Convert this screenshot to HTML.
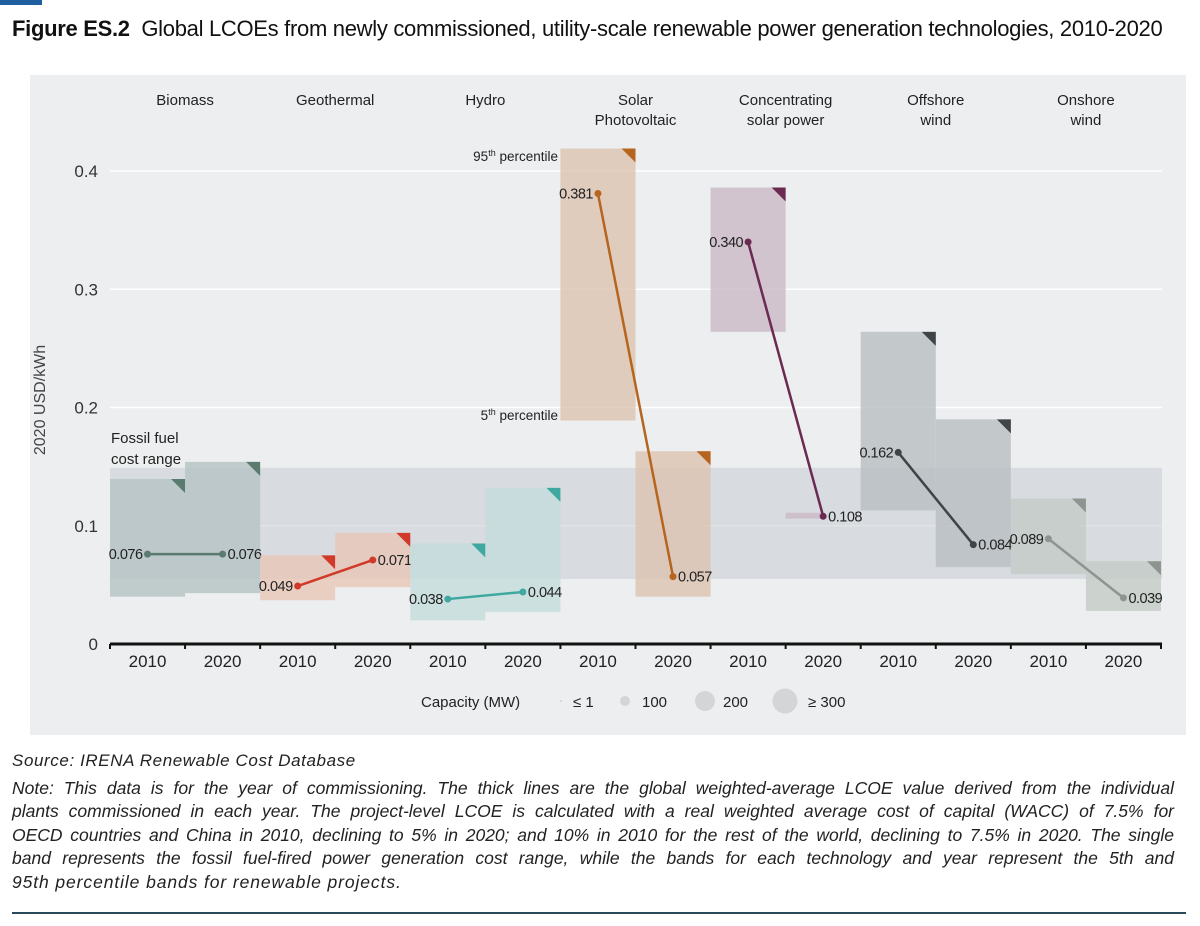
<!DOCTYPE html>
<html><head><meta charset="utf-8"><style>
body{margin:0;width:1200px;height:926px;background:#fff;font-family:"Liberation Sans",sans-serif;overflow:hidden;position:relative}
.t{position:absolute}
.fn div{width:1162px;text-align:justify;text-align-last:justify;white-space:nowrap}
.fn div.last{text-align-last:left;letter-spacing:0.9px}
</style></head><body>
<div class="t" style="left:0;top:0;width:42px;height:5px;background:#1f5fa0"></div>
<div class="t" style="left:12px;top:16px;font-size:22px;color:#111;letter-spacing:-0.3px;white-space:nowrap"><b>Figure ES.2</b>&nbsp; Global LCOEs from newly commissioned, utility-scale renewable power generation technologies, 2010-2020</div>
<svg class="t" style="left:0;top:0" width="1200" height="926" id="svg"></svg>
<div class="t" style="left:12px;top:751px;font-size:17px;font-style:italic;color:#222;letter-spacing:0.6px">Source: IRENA Renewable Cost Database</div>
<div class="t fn" style="left:12px;top:777px;font-size:17.5px;font-style:italic;color:#222;line-height:23.4px">
<div>Note: This data is for the year of commissioning. The thick lines are the global weighted-average LCOE value derived from the individual</div>
<div>plants commissioned in each year. The project-level LCOE is calculated with a real weighted average cost of capital (WACC) of 7.5% for</div>
<div>OECD countries and China in 2010, declining to 5% in 2020; and 10% in 2010 for the rest of the world, declining to 7.5% in 2020. The single</div>
<div>band represents the fossil fuel-fired power generation cost range, while the bands for each technology and year represent the 5th and</div>
<div class="last">95th percentile bands for renewable projects.</div>
</div>
<div class="t" style="left:12px;top:912px;width:1174px;height:2px;background:#2a4a5a"></div>
<script>
const techs=["Biomass","Geothermal","Hydro","Solar|Photovoltaic","Concentrating|solar power","Offshore|wind","Onshore|wind"];
const years=["2010","2020"];
const avg2010=[0.076,0.049,0.038,0.381,0.340,0.162,0.089];
const avg2020=[0.076,0.071,0.044,0.057,0.108,0.084,0.039];
const p95_2010=[0.1395,0.075,0.085,0.419,0.386,0.264,0.123];
const p5_2010=[0.040,0.037,0.020,0.189,0.264,0.113,0.059];
const p95_2020=[0.154,0.094,0.132,0.163,0.111,0.190,0.070];
const p5_2020=[0.043,0.048,0.027,0.040,0.106,0.065,0.028];
const fossil=[0.055,0.149];
const yTicks=[0,0.1,0.2,0.3,0.4];
const lineCol=["#5b7a70","#d03a2a","#3fa8a0","#b5651d","#6b2a52","#3f4446","#8e9590"];
const bandCol=["#b5c3c3","#e8c6b6","#c5dcdc","#ddc3b0","#cbb9c6","#b9bec2","#c4cbc6"];
const S="http://www.w3.org/2000/svg",svg=document.getElementById('svg');
const X0=110,CW=75.07,Y0=644,K=1182.5;
const y=v=>Y0-v*K, xc=i=>X0+CW*i, xm=i=>X0+CW*(i+0.5);
function el(t,a,p){const e=document.createElementNS(S,t);for(const k in a)e.setAttribute(k,a[k]);(p||svg).appendChild(e);return e}
function tx(s,x,yy,a){const e=el('text',Object.assign({x:x,y:yy,'font-size':15,fill:'#222','font-family':'Liberation Sans, sans-serif'},a));e.textContent=s;return e}
let bg=el('rect',{x:30,y:75,width:1156,height:660,fill:'#eceeef'});

yTicks.forEach(v=>{if(v>0){let g=el('line',{x1:110,x2:1162,y1:y(v),y2:y(v),stroke:'#fff','stroke-width':1.5});}
 let t=tx(v===0?'0':String(v),98,y(v)+6,{'text-anchor':'end','font-size':17,fill:'#333'});});
let fb=el('rect',{x:110,y:y(fossil[1]),width:1052,height:y(fossil[0])-y(fossil[1]),fill:'#c9ccd1','fill-opacity':0.55});

let fl=tx('Fossil fuel',111,443,{});
let fl2=tx('cost range',111,464,{});
techs.forEach((n,i)=>{
 const c0=2*i,c1=2*i+1;
 [[c0,p5_2010[i],p95_2010[i]],[c1,p5_2020[i],p95_2020[i]]].forEach(([c,lo,hi],j)=>{
  let x=xc(c),w=CW;
  if(i===4&&j===1){w=36;}
  let r=el('rect',{x:x,y:y(hi),width:w,height:Math.max(3,y(lo)-y(hi)),fill:bandCol[i],'fill-opacity':0.8});
  
  if(!(i===4&&j===1)){let tr=el('path',{d:`M${xc(c)+CW-14} ${y(hi)} L${xc(c)+CW} ${y(hi)} L${xc(c)+CW} ${y(hi)+14}Z`,fill:lineCol[i]});
  }
 });
 let ln=el('line',{x1:xm(c0),y1:y(avg2010[i]),x2:xm(c1),y2:y(avg2020[i]),stroke:lineCol[i],'stroke-width':2.5});
 
 [[c0,avg2010[i],'end',-5],[c1,avg2020[i],'start',5]].forEach(([c,v,an,dx])=>{
  let d=el('circle',{cx:xm(c),cy:y(v),r:3.5,fill:lineCol[i]});
  let l=tx(v.toFixed(3),xm(c)+dx,y(v)+5,{'text-anchor':an,'font-size':14.5,'letter-spacing':'-0.5'});
 });
 n.split('|').forEach((s,k)=>{let t=tx(s,xc(c1),105+k*20,{'text-anchor':'middle'});});
 years.forEach((yr,j)=>{let t=tx(yr,xm(2*i+j),667,{'text-anchor':'middle','font-size':17});});
});
let ax=el('line',{x1:110,x2:1162,y1:Y0,y2:Y0,stroke:'#111','stroke-width':3});
for(let c=0;c<=14;c++){let tk=el('line',{x1:xc(c),x2:xc(c),y1:Y0,y2:Y0+5,stroke:'#111','stroke-width':2});}
let p95=el('text',{x:558,y:161,'font-size':13.5,fill:'#222','text-anchor':'end'});p95.innerHTML='95<tspan font-size="9" dy="-5">th</tspan><tspan dy="5"> percentile</tspan>';
let p5=el('text',{x:558,y:420,'font-size':13.5,fill:'#222','text-anchor':'end'});p5.innerHTML='5<tspan font-size="9" dy="-5">th</tspan><tspan dy="5"> percentile</tspan>';
let yt=tx('2020 USD/kWh',0,0,{'font-size':16,fill:'#444','text-anchor':'middle',transform:'translate(45,400) rotate(-90)'});
let lt=tx('Capacity (MW)',421,707,{});
[[561,1,'≤ 1',573],[625,5,'100',642],[705,10,'200',723],[785,12.5,'≥ 300',808]].forEach(([cx,r,s,lx])=>{
 let c=el('circle',{cx:cx,cy:701,r:r,fill:'#d3d5d7'});
 let t=tx(s,lx,707,{});
});
</script>
</body></html>
